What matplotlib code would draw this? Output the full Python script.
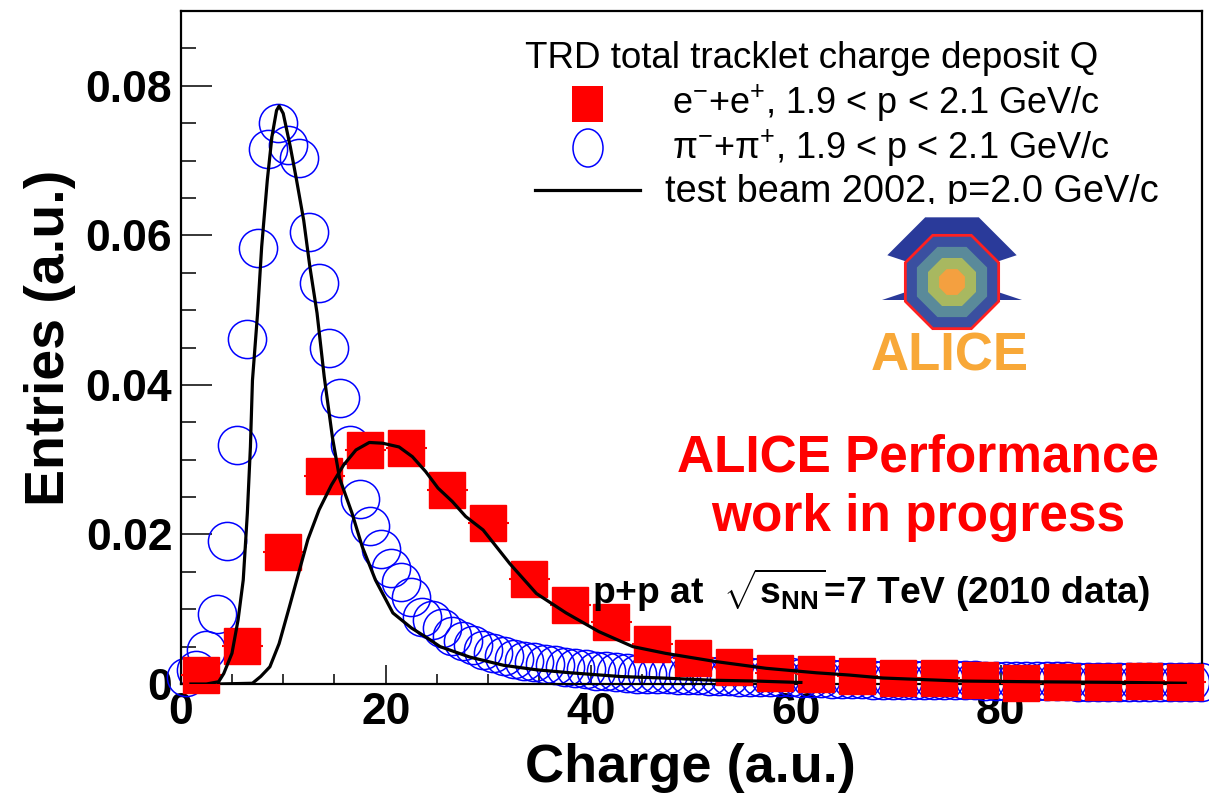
import matplotlib.pyplot as plt
import numpy as np
from matplotlib.patches import Rectangle, Ellipse, Polygon
from matplotlib.transforms import Bbox, TransformedBbox

plt.rcParams['font.family'] = ['Liberation Sans', 'DejaVu Sans']
plt.rcParams['mathtext.fontset'] = 'custom'
plt.rcParams['mathtext.rm'] = 'Liberation Sans'
plt.rcParams['mathtext.it'] = 'Liberation Sans:italic'
plt.rcParams['mathtext.bf'] = 'Liberation Sans:bold'

# pions: 1-unit bins, centres 0.5 .. 99.5
pion_x = np.arange(100) + 0.5
pion_y = [
    0.0010, 0.0019, 0.0045, 0.0093, 0.0191, 0.0319, 0.0462, 0.0583, 0.0715, 0.0750,
    0.0721, 0.0704, 0.0604, 0.0536, 0.0449, 0.0382, 0.0320, 0.0248, 0.0211, 0.0181,
    0.0155, 0.0137, 0.0117, 0.0090, 0.0085, 0.0075, 0.0064, 0.0057, 0.0052, 0.0046,
    0.0042, 0.0038, 0.0034, 0.0031, 0.0029, 0.0027, 0.0025, 0.0023, 0.0021, 0.0020,
    0.0018, 0.0017, 0.0016, 0.0015, 0.0014, 0.0014, 0.0013, 0.0013, 0.0012, 0.0012,
    0.0012, 0.0011, 0.0011, 0.0011, 0.0010, 0.0010, 0.0010, 0.0009, 0.0009, 0.0009,
    0.0008, 0.0008, 0.0008, 0.0007, 0.0007, 0.0007, 0.0007, 0.0006, 0.0006, 0.0006,
    0.0006, 0.0006, 0.0005, 0.0005, 0.0005, 0.0005, 0.0005, 0.0005, 0.0004, 0.0004,
    0.0004, 0.0004, 0.0004, 0.0004, 0.0004, 0.0004, 0.0004, 0.0003, 0.0003, 0.0003,
    0.0003, 0.0003, 0.0003, 0.0003, 0.0003, 0.0003, 0.0003, 0.0003, 0.0003, 0.0003,
]

# electrons: 4-unit bins, centres 2 .. 98
elec_x = np.arange(2, 100, 4)
elec_y = [
    0.0012, 0.0051, 0.0177, 0.0278, 0.0313, 0.0316, 0.0259, 0.0215, 0.0140, 0.0105,
    0.0083, 0.0053, 0.0035, 0.0023, 0.0015, 0.0014, 0.0011, 0.0008, 0.0008, 0.0005,
    0.0002, 0.0003, 0.0003, 0.0004, 0.0003,
]

# test beam 2002 reference curves
tb_pi_x = [1.0, 2.5, 3.7, 4.2, 5.0, 5.6, 6.1, 6.5, 6.8, 7.0, 7.5, 7.9, 8.45, 8.9, 9.35,
           9.6, 10.0, 10.7, 11.3, 12.0, 12.6, 13.3, 14.0, 14.8, 15.5, 16.7, 17.7, 19.0,
           20.7, 22.5, 24.0, 25.3, 28.2, 31.5, 34.7, 38.0, 42.9, 47.0, 52.0, 56.0, 60.5]
tb_pi_y = [0.0, 0.0, 0.0003, 0.0014, 0.0041, 0.0086, 0.0139, 0.0228, 0.0317, 0.0406,
           0.0496, 0.0585, 0.0674, 0.0732, 0.0767, 0.0773, 0.0763, 0.0718, 0.0674, 0.0620,
           0.0558, 0.0496, 0.0411, 0.0330, 0.0275, 0.0229, 0.0184, 0.0139, 0.0095, 0.0075,
           0.0062, 0.0050, 0.0036, 0.0025, 0.0019, 0.0015, 0.0010, 0.0008, 0.0005, 0.0004,
           0.0002]
tb_e_x = [3.7, 7.0, 7.8, 8.7, 9.6, 10.6, 11.4, 12.4, 13.5, 14.7, 15.9, 17.1, 18.4, 19.7,
          21.3, 22.6, 23.9, 25.1, 26.5, 27.8, 29.5, 32.1, 34.7, 37.6, 40.8, 44.1, 47.3,
          52.2, 57.1, 62.0, 65.2, 68.5, 76.0, 83.1, 92.9, 98.0]
tb_e_y = [0.0, 0.0001, 0.0010, 0.0023, 0.0054, 0.0103, 0.0143, 0.0193, 0.0233, 0.0266,
          0.0293, 0.0313, 0.0323, 0.0322, 0.0317, 0.0304, 0.0284, 0.0262, 0.0244, 0.0224,
          0.0206, 0.0161, 0.0121, 0.0095, 0.0070, 0.0050, 0.0041, 0.0030, 0.0021, 0.0015,
          0.0012, 0.0008, 0.0004, 0.0003, 0.0002, 0.0001]

W, H = 1209, 800


def fp(x, y):
    # image pixel -> figure fraction
    return x / W, 1 - y / H


fig = plt.figure(figsize=(W / 100, H / 100), dpi=100)
ax = fig.add_axes([180.7 / W, 1 - 684 / H, (1201.7 - 180.7) / W, (684 - 11) / H])

ax.plot(pion_x, pion_y, 'o', ms=27.5, mfc='none', mec='#0000ff', mew=1.1,
        clip_on=False, zorder=2)
ax.errorbar(elec_x, elec_y, xerr=2, fmt='s', ms=26.5, color='#ff0000', mec='#ff0000',
            elinewidth=1.5, capsize=0, clip_on=False, zorder=3)
ax.plot(tb_pi_x, tb_pi_y, color='black', lw=2.3, zorder=4)
ax.plot(tb_e_x, tb_e_y, color='black', lw=2.3, zorder=4)

ax.set_xlim(0, 99.6)
ax.set_ylim(0, 0.09)
ax.set_xticks([0, 20, 40, 60, 80])
ax.set_xticks(np.arange(0, 100, 5), minor=True)
ax.set_yticks([0, 0.02, 0.04, 0.06, 0.08])
ax.set_yticklabels(['0', '0.02', '0.04', '0.06', '0.08'])
ax.set_yticks(np.arange(0, 0.09, 0.005), minor=True)
ax.tick_params(axis='both', which='both', direction='in', width=1.1)
ax.tick_params(axis='y', which='major', length=22, pad=6)
ax.tick_params(axis='y', which='minor', length=11)
ax.tick_params(axis='x', which='major', length=14, pad=6)
ax.tick_params(axis='x', which='minor', length=7)
for lab in ax.get_xticklabels() + ax.get_yticklabels():
    lab.set_fontsize(32)
    lab.set_fontweight('bold')
for sp in ax.spines.values():
    sp.set_linewidth(1.6)

fig.text(*fp(50, 338), 'Entries (a.u.)', rotation=90, fontsize=40, fontweight='bold',
         ha='center', va='center')
fig.text(*fp(690, 768), 'Charge (a.u.)', fontsize=39, fontweight='bold',
         ha='center', va='center')

# legend, drawn by hand to follow the ROOT layout
fig.text(*fp(525, 58), 'TRD total tracklet charge deposit Q', fontsize=26.5,
         ha='left', va='center')
fig.patches.append(Rectangle(fp(572, 122), 31 / W, 36 / H, transform=fig.transFigure,
                             facecolor='#ff0000', edgecolor='none'))
fig.patches.append(Ellipse(fp(588, 148), 30 / W, 38 / H, transform=fig.transFigure,
                           facecolor='none', edgecolor='#0000ff', lw=1.1))
fig.lines.append(plt.Line2D([535 / W, 640 / W], [1 - 190 / H, 1 - 190 / H],
                            transform=fig.transFigure, color='black', lw=2.3))
fig.text(*fp(672, 103), r'e$^{-}$+e$^{+}$, 1.9 < p < 2.1 GeV/c', fontsize=26,
         ha='left', va='center')
fig.text(*fp(672, 148), r'π$^{-}$+π$^{+}$, 1.9 < p < 2.1 GeV/c', fontsize=26,
         ha='left', va='center')
t3 = fig.text(*fp(665, 192), 'test beam 2002, p=2.0 GeV/c', fontsize=27.3,
              ha='left', va='center')
t3.set_clip_box(TransformedBbox(Bbox.from_extents(0, 1 - 204 / H, 1, 1), fig.transFigure))
t3.set_clip_on(True)

fig.text(*fp(918, 458), 'ALICE Performance', fontsize=37, fontweight='bold',
         color='#ff0000', ha='center', va='center')
fig.text(*fp(918, 518), 'work in progress', fontsize=37, fontweight='bold',
         color='#ff0000', ha='center', va='center')
fig.text(*fp(871, 590), r'p+p at  $\sqrt{\mathbf{s}_{\mathbf{NN}}}$=7 TeV (2010 data)',
         fontsize=26.8, fontweight='bold', ha='center', va='center')


# ALICE logo, rough sketch
def octagon(cx, cy, r):
    ang = np.deg2rad(22.5 + 45 * np.arange(8))
    return [fp(cx + r * np.cos(a), cy + r * np.sin(a)) for a in ang]


outer = [fp(1022, 300)] + [p for p in octagon(952, 282, 70) if p[1] >= 1 - 300 / H] + [fp(882, 300)]
fig.patches.append(Polygon(outer, closed=True, transform=fig.transFigure,
                           facecolor='#2a3a9a', edgecolor='none'))
for r, c in [(52, '#ff2020'), (49, '#3a4fa0'), (38, '#5a8a9a'), (26, '#a8b860'),
             (14, '#f4a040')]:
    fig.patches.append(Polygon(octagon(952, 282, r), closed=True, transform=fig.transFigure,
                               facecolor=c, edgecolor='none'))
fig.text(*fp(950, 356), 'ALICE', fontsize=38, fontweight='bold', color='#f8a838',
         ha='center', va='center')

fig.savefig('out.png', dpi=100)
